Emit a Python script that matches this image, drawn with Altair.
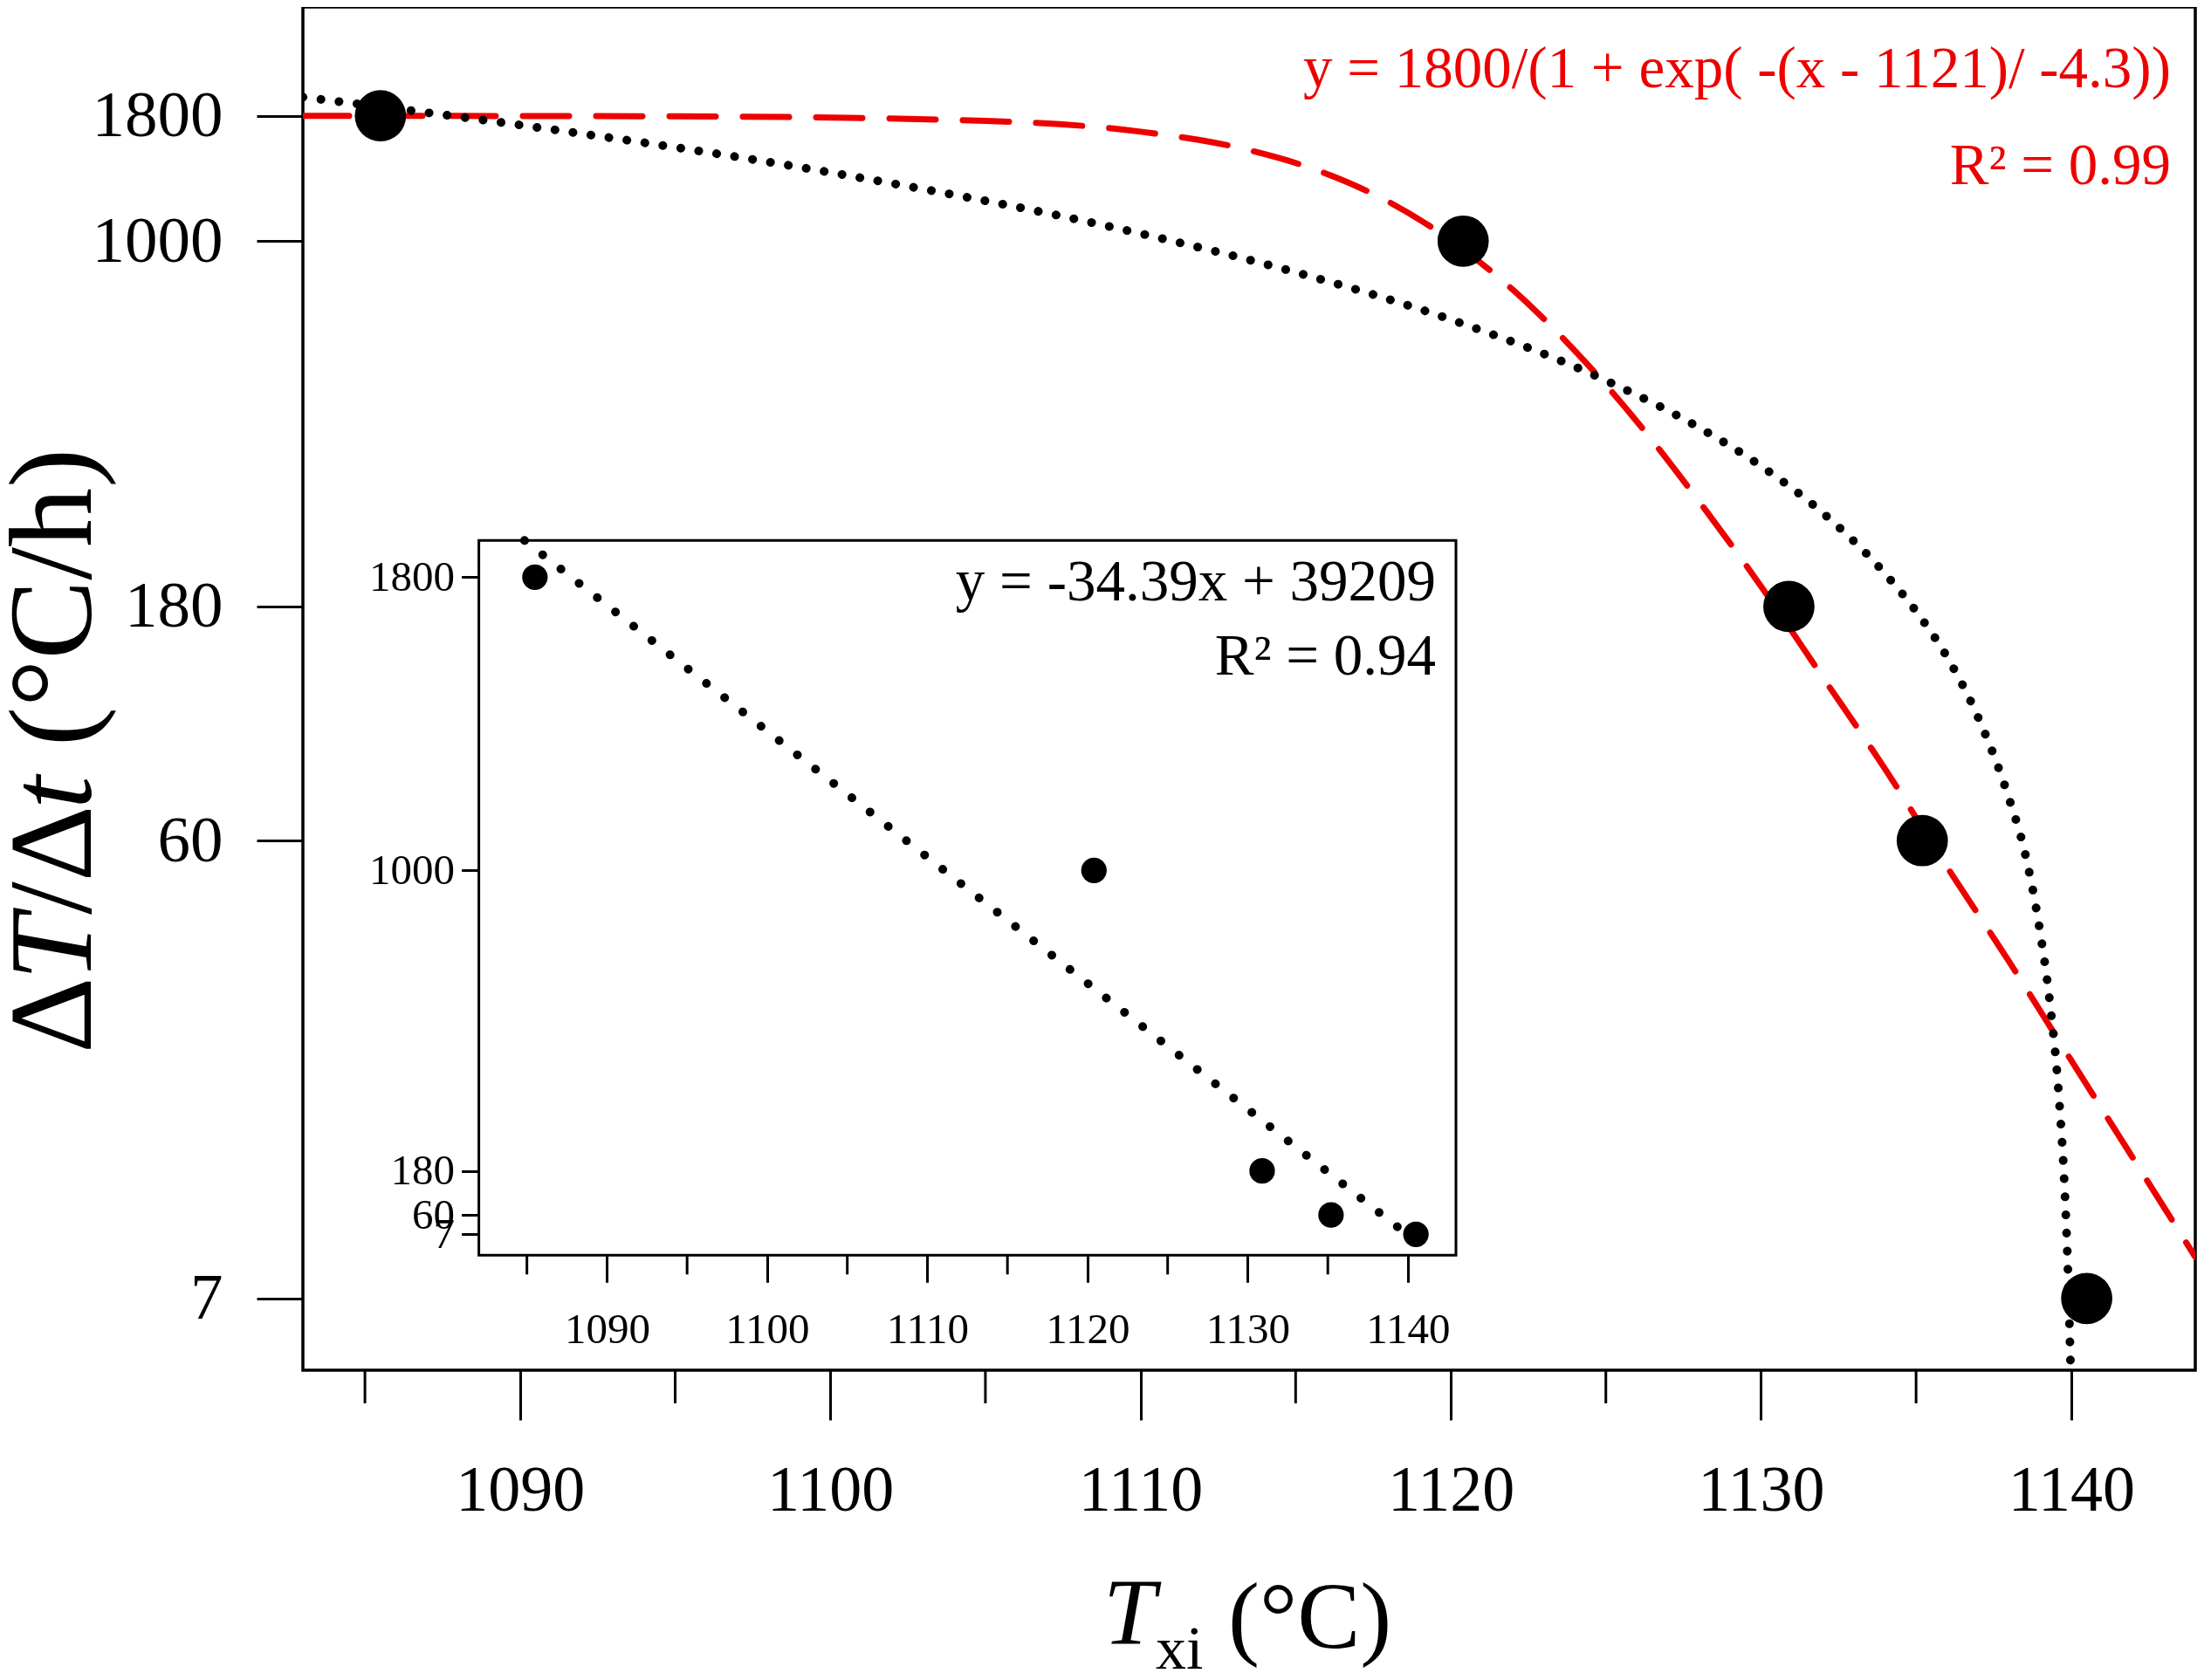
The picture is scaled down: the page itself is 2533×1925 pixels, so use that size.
import altair as alt
import pandas as pd

FONT = "Liberation Serif"
RED = "#EE0000"

# ---------------- data ----------------
T_XI = [1085.5, 1120.4, 1130.9, 1135.2, 1140.5]
RATE = [1800, 1000, 180, 60, 7]

# red dashed sigmoid fit (main panel, log y)
SIG_X = [1083, 1095, 1105, 1110, 1113, 1116, 1118, 1120, 1122, 1124, 1126,
         1128, 1130, 1132, 1134, 1136, 1138, 1140, 1142, 1144]
SIG_Y = [1800, 1796, 1758, 1671, 1558, 1371, 1202, 1004, 796, 598, 429,
         295, 198, 129, 84, 53, 34, 21.4, 13.5, 8.5]

# black dotted linear fit shown on the log panel
LIN_X = [1083, 1090, 1100, 1110, 1115, 1120, 1125, 1128, 1130, 1132, 1134,
         1135, 1136, 1137, 1138, 1138.5, 1139, 1139.3, 1139.6, 1139.8, 1139.9, 1139.98]
LIN_Y = [1965, 1724, 1380, 1036, 864, 692, 520, 417, 348, 279, 210,
         176, 142, 107, 73, 57, 39, 28.5, 18.2, 11.3, 7.8, 5.1]

# inset linear fit
INSET_LIN_X = [1084.85, 1100, 1120, 1141.6]
INSET_LIN_Y = [1900, 1380, 692, -50]

X_MAJOR = [1090, 1100, 1110, 1120, 1130, 1140]
X_MINOR = [1085, 1095, 1105, 1115, 1125, 1135]
Y_TICKS = [7, 60, 180, 1000, 1800]

FIT_MAIN = ["y = 1800/(1 + exp( -(x - 1121)/ -4.3))", "R\u00b2 = 0.99"]
FIT_INSET = ["y = -34.39x + 39209", "R\u00b2 = 0.94"]

# ---------------- layout ----------------
W, H = 2168, 1562
INSET_L, INSET_R = 201.6, 1321.0
INSET_B, INSET_T = 1430.3, 611.3

pts = pd.DataFrame({"x": T_XI, "y": RATE})
sig = pd.DataFrame({"x": SIG_X, "y": SIG_Y})
lin = pd.DataFrame({"x": LIN_X, "y": LIN_Y})
ilin = pd.DataFrame({"x": INSET_LIN_X, "y": INSET_LIN_Y})
box = pd.DataFrame({"x": [1082], "x2": [1143], "y": [-50], "y2": [1900]})

main_xs = alt.Scale(domain=[1083, 1144], nice=False, zero=False)
main_ys = alt.Scale(type="log", domain=[5, 3000], nice=False)
main_xa = alt.Axis(values=X_MAJOR, title=None, format="d", domain=False, grid=False,
                   tickSize=57, tickWidth=3, tickColor="black", labelFont=FONT,
                   labelFontSize=74, labelColor="black", labelPadding=103,
                   labelBaseline="alphabetic", labelOverlap=False, labelFlush=False,
                   orient="bottom")
main_ya = alt.Axis(values=Y_TICKS, title=None, format="d", domain=False, grid=False,
                   tickSize=53, tickWidth=3, tickColor="black", labelFont=FONT,
                   labelFontSize=75, labelColor="black", labelPadding=39,
                   labelBaseline="middle", labelOverlap=False, labelFlush=False,
                   orient="left")

in_xs = alt.Scale(domain=[1082, 1143], nice=False, zero=False, range=[INSET_L, INSET_R])
in_ys = alt.Scale(domain=[-50, 1900], nice=False, zero=False, range=[INSET_B, INSET_T])
in_xa = alt.Axis(values=X_MAJOR, title=None, format="d", domain=False, grid=False,
                 tickSize=31, tickWidth=3, tickColor="black", labelFont=FONT,
                 labelFontSize=49, labelColor="black", labelPadding=69,
                 labelBaseline="alphabetic", labelOverlap=False, labelFlush=False,
                 orient="bottom", offset=INSET_B - H)
in_ya = alt.Axis(values=Y_TICKS, title=None, format="d", domain=False, grid=False,
                 tickSize=20, tickWidth=3, tickColor="black", labelFont=FONT,
                 labelFontSize=49, labelColor="black", labelPadding=8,
                 labelBaseline="middle", labelOverlap=False, labelFlush=False,
                 orient="left", offset=-INSET_L)


def mx(f="x"):
    return alt.X(f"{f}:Q", scale=main_xs, axis=main_xa)


def my(f="y"):
    return alt.Y(f"{f}:Q", scale=main_ys, axis=main_ya)


def ix(f="x"):
    return alt.X(f"{f}:Q", scale=in_xs, axis=in_xa)


def iy(f="y"):
    return alt.Y(f"{f}:Q", scale=in_ys, axis=in_ya)


red = alt.Chart(sig).mark_line(color=RED, strokeWidth=7, strokeDash=[53, 31],
                               strokeCap="round", interpolate="monotone",
                               clip=True).encode(x=mx(), y=my())
dotted = alt.Chart(lin).mark_line(color="black", strokeWidth=10, strokeDash=[0.1, 20.7],
                                  strokeCap="round", interpolate="monotone",
                                  clip=True).encode(x=mx(), y=my())
points = alt.Chart(pts).mark_circle(size=3450, color="black", opacity=1).encode(x=mx(), y=my())
minor = alt.Chart(pd.DataFrame({"x": X_MINOR})).mark_rule(color="black", strokeWidth=3).encode(
    x=mx(), y=alt.value(H), y2=alt.value(H + 38))

main = alt.layer(red, dotted, points, minor)

ibox = alt.Chart(box).mark_rect(fill="white", stroke="black", strokeWidth=3).encode(
    x=ix(), x2="x2:Q", y=iy(), y2="y2:Q")
iline = alt.Chart(ilin).mark_line(color="black", strokeWidth=10, strokeDash=[0.1, 26.4],
                                  strokeCap="round").encode(x=ix(), y=iy())
ipts = alt.Chart(pts).mark_circle(size=855, color="black", opacity=1).encode(x=ix(), y=iy())
iminor = alt.Chart(pd.DataFrame({"x": X_MINOR})).mark_rule(color="black", strokeWidth=3).encode(
    x=ix(), y=alt.value(INSET_B), y2=alt.value(INSET_B + 22))

inset = alt.layer(ibox, iline, ipts, iminor)


def txt(text, x, y, size, color="black", style="normal", align="left", angle=0):
    return alt.Chart(pd.DataFrame({"t": [text]})).mark_text(
        font=FONT, fontSize=size, color=color, fontStyle=style, align=align,
        baseline="alphabetic", angle=angle).encode(
        x=alt.value(x), y=alt.value(y), text="t:N")


YT = -243  # baseline of the rotated y title, relative to the plot's left edge
texts = [
    txt(FIT_MAIN[0], 2140, 92, 67, color=RED, align="right"),
    txt(FIT_MAIN[1], 2140, 203, 67, color=RED, align="right"),
    txt(FIT_INSET[0], 1298, 680, 67, align="right"),
    txt(FIT_INSET[1], 1298, 765, 67, align="right"),
    # x title: T_xi (°C)
    txt("T", 917, 1875, 108, style="italic"),
    txt("xi", 977, 1904, 70),
    txt("(\u00b0C)", 1060, 1880, 108),
    # y title: ΔT/Δt (°C/h), rotated
    txt("\u0394", YT, 1199, 136, angle=270),
    txt("T", YT, 1115.7, 136, style="italic", angle=270),
    txt("/\u0394", YT, 1040.1, 136, angle=270),
    txt("t", YT, 919.0, 136, style="italic", angle=270),
    txt("(\u00b0C/h)", YT, 847.2, 136, angle=270),
]

chart = alt.layer(main, inset, *texts).resolve_scale(
    x="independent", y="independent"
).properties(
    width=W, height=H,
    autosize=alt.AutoSizeParams(type="none"),
    padding={"left": 339, "top": 0, "right": 10, "bottom": 347},
    background="white",
).configure_view(stroke="black", strokeWidth=3.5)

chart.save("out.html", embed_options={"renderer": "svg", "actions": False})
